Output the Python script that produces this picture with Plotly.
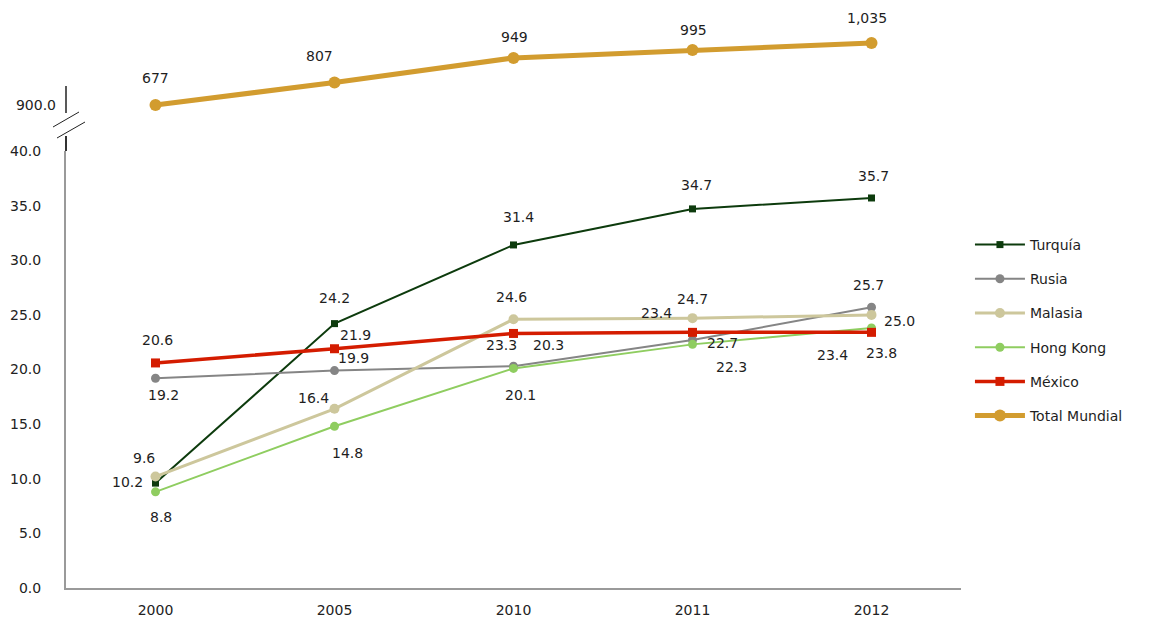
import plotly.graph_objects as go

# ---------------- data ----------------
years = ["2000", "2005", "2010", "2011", "2012"]
turquia = [9.6, 24.2, 31.4, 34.7, 35.7]
rusia = [19.2, 19.9, 20.3, 22.7, 25.7]
malasia = [10.2, 16.4, 24.6, 24.7, 25.0]
hong_kong = [8.8, 14.8, 20.1, 22.3, 23.8]
mexico = [20.6, 21.9, 23.3, 23.4, 23.4]
total_mundial = [677, 807, 949, 995, 1035]

lower_tick_vals = [0, 5, 10, 15, 20, 25, 30, 35, 40]
upper_tick_vals = [677]
upper_tick_text = ["900.0"]

# ---------------- styles ----------------
FONT = "DejaVu Sans, Verdana, sans-serif"
OFF = 8  # page body margin
W, H = 1149 - OFF, 624 - OFF
L, R, T, B = 66 - OFF, 188, 2, 36
PW, PH = W - L - R, H - T - B


def px_y(p):
    # p: vertical pixel in the reference picture
    return (H - B - (p - OFF)) / PH


def px_x(p):
    return ((p - OFF) - L) / PW


series = [
    dict(name="Turquía", y=turquia, color="#0d3b0d", width=2, msize=7, symbol="square",
         offs=[(-12, 25), (0, 26), (5, 28), (4, 24), (2, 22)], yaxis="y"),
    dict(name="Rusia", y=rusia, color="#858585", width=2, msize=9, symbol="circle",
         offs=[(8, -17), (19, 13), (35, 21), (30, -3), (-3, 22)], yaxis="y"),
    dict(name="Malasia", y=malasia, color="#cdc79c", width=3, msize=10, symbol="circle",
         offs=[(-28, -5), (-21, 11), (-2, 22), (0, 19), (28, -6)], yaxis="y"),
    dict(name="Hong Kong", y=hong_kong, color="#8fcd60", width=2, msize=9, symbol="circle",
         offs=[(5, -25), (13, -27), (7, -27), (39, -23), (10, -25)], yaxis="y"),
    dict(name="México", y=mexico, color="#d41c00", width=3.5, msize=9, symbol="square",
         offs=[(2, 23), (21, 14), (-12, -12), (-36, 19), (-39, -23)], yaxis="y"),
    dict(name="Total Mundial", y=total_mundial, color="#d29c2f", width=5, msize=12, symbol="circle",
         offs=[(0, 27), (-15, 26), (1, 21), (1, 20), (-5, 25)], yaxis="y2"),
]

LABEL_FONT = dict(family=FONT, size=14, color="#1e1e1e")

fig = go.Figure()
annotations = []
for i, s in enumerate(series):
    fig.add_trace(go.Scatter(
        x=years, y=s["y"], name=s["name"], mode="lines+markers",
        line=dict(color=s["color"], width=s["width"]),
        marker=dict(color=s["color"], size=s["msize"], symbol=s["symbol"]),
        yaxis=s["yaxis"], legendgroup=f"g{i}", cliponaxis=False,
    ))
    for xi, (v, (dx, dy)) in enumerate(zip(s["y"], s["offs"])):
        txt = f"{v:,.0f}" if s["yaxis"] == "y2" else f"{v:.1f}"
        annotations.append(dict(
            x=xi, y=v, xref="x", yref=s["yaxis"], text=txt, showarrow=False,
            xshift=dx, yshift=dy, font=LABEL_FONT,
        ))

lower_top = px_y(151)
upper_bottom = px_y(115)
upper_top = 1.0
# upper axis: 677 sits at ref pixel 105, 1035 at ref pixel 43
u_scale = (105 - 43) / (1035 - 677)
u_bottom_px = 588 - upper_bottom * PH
u_top_px = 588 - upper_top * PH
u_lo = 677 - (u_bottom_px - 105) / u_scale
u_hi = 677 + (105 - u_top_px) / u_scale

shapes = [
    dict(type="line", xref="paper", yref="paper", x0=0, x1=0, y0=lower_top, y1=px_y(136),
         line=dict(color="#333333", width=2)),
    dict(type="line", xref="paper", yref="paper", x0=0, x1=0, y0=px_y(113), y1=px_y(86),
         line=dict(color="#222222", width=1.5)),
    dict(type="line", xref="paper", yref="paper", x0=px_x(53), x1=px_x(79), y0=px_y(127), y1=px_y(112),
         line=dict(color="#222222", width=1)),
    dict(type="line", xref="paper", yref="paper", x0=px_x(57), x1=px_x(85), y0=px_y(138), y1=px_y(122),
         line=dict(color="#222222", width=1)),
]

TICK_FONT = dict(family=FONT, size=14, color="#222222")

fig.update_layout(
    width=W, height=H,
    margin=dict(l=L, r=R, t=T, b=B, autoexpand=False),
    paper_bgcolor="white", plot_bgcolor="white",
    font=dict(family=FONT, size=14, color="#1e1e1e"),
    showlegend=True,
    legend=dict(
        x=1.01, xanchor="left", y=px_y(229), yanchor="top",
        font=dict(family=FONT, size=14, color="#1e1e1e"),
        tracegroupgap=13, traceorder="grouped", itemwidth=50,
        bgcolor="rgba(0,0,0,0)",
    ),
    xaxis=dict(
        type="category", range=[-0.5, 4.5], showgrid=False, zeroline=False,
        showline=True, linecolor="#9a9a9a", linewidth=2, automargin=False,
        ticks="", ticklabelstandoff=8, tickfont=TICK_FONT,
    ),
    yaxis=dict(
        domain=[0, lower_top], range=[0, 40], tickvals=lower_tick_vals, tickformat=".1f",
        showgrid=False, zeroline=False, showline=True, linecolor="#9a9a9a", linewidth=2,
        automargin=False, ticks="", ticklabelstandoff=20, tickfont=TICK_FONT,
    ),
    yaxis2=dict(
        domain=[upper_bottom, upper_top], range=[u_lo, u_hi],
        tickvals=upper_tick_vals, ticktext=upper_tick_text,
        showgrid=False, zeroline=False, showline=False, anchor="x",
        automargin=False, ticks="", ticklabelstandoff=9, tickfont=TICK_FONT,
    ),
    annotations=annotations,
    shapes=shapes,
)

fig.write_html("out.html")
